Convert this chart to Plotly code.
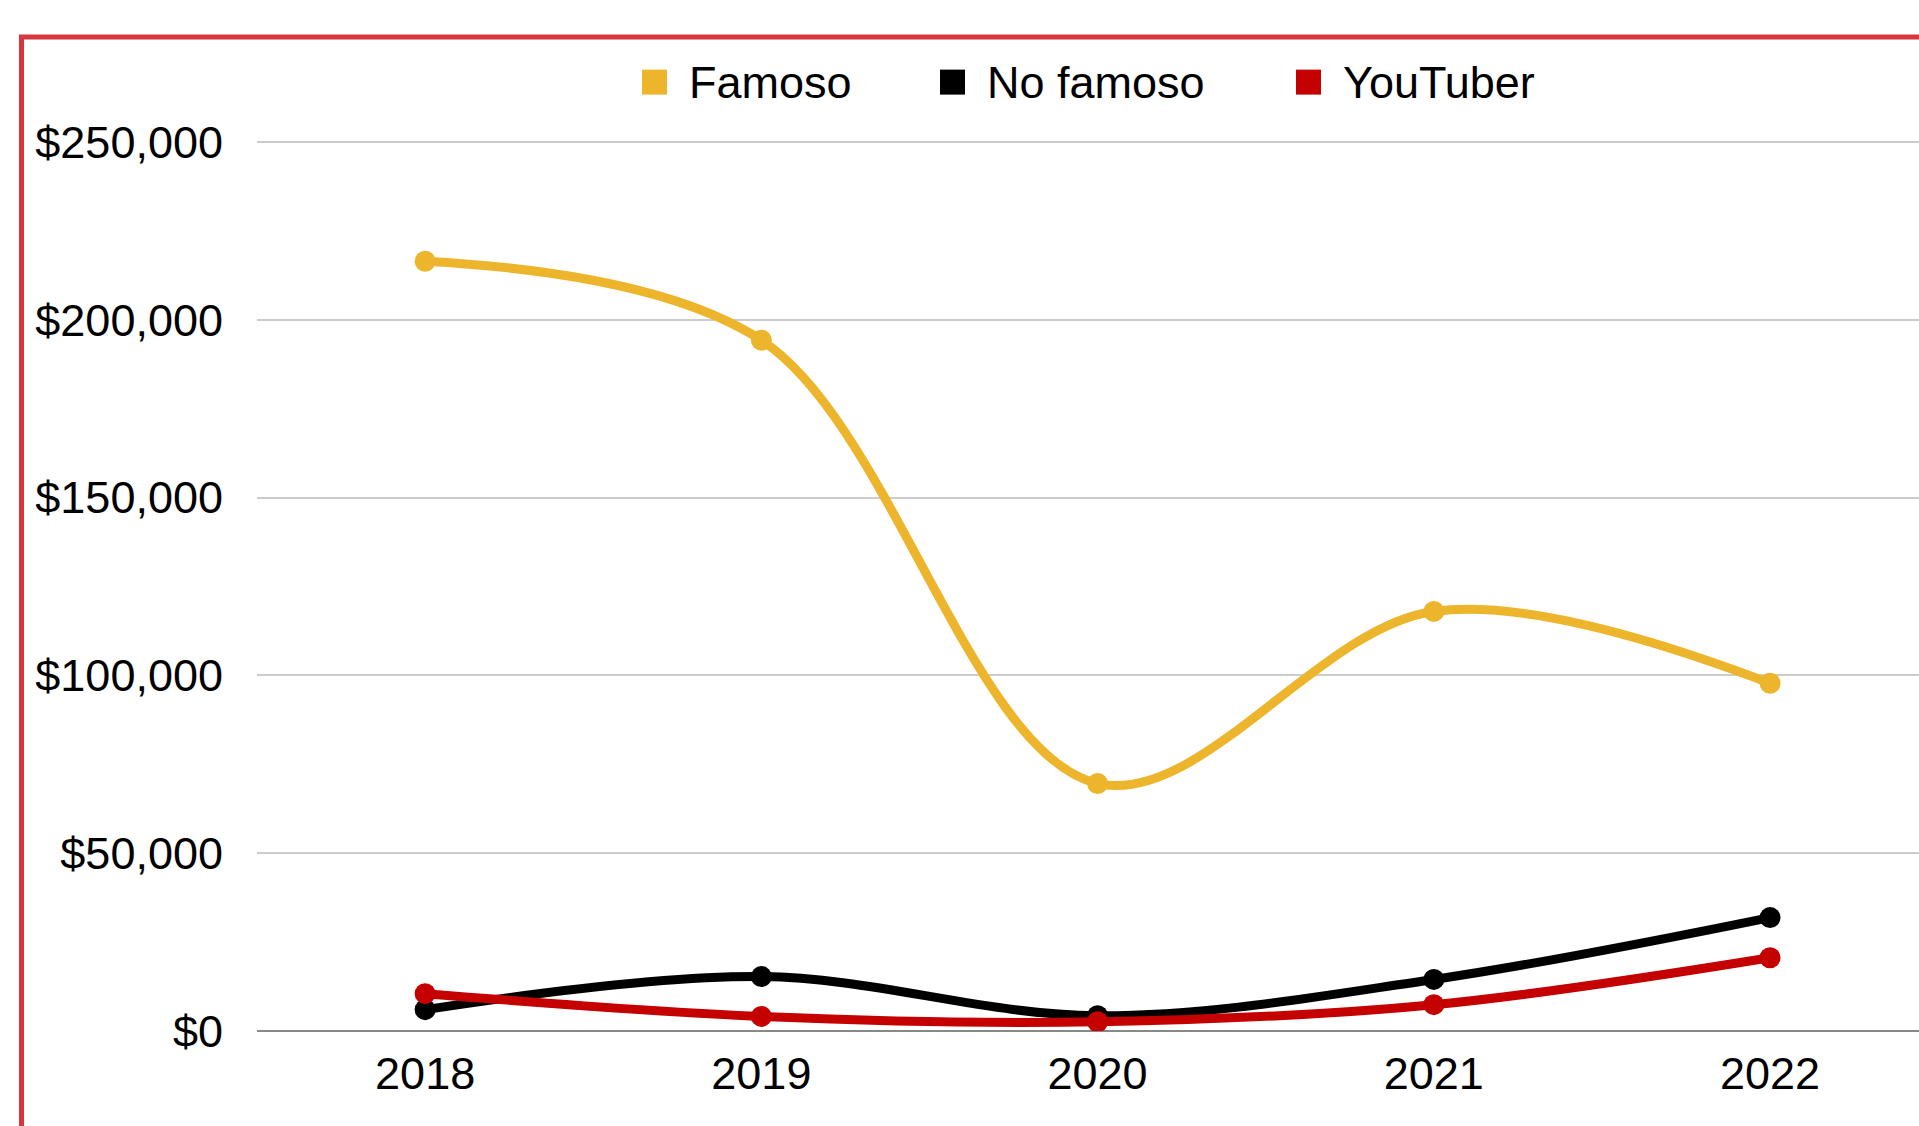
import plotly.graph_objects as go

years = ["2018", "2019", "2020", "2021", "2022"]
famoso = [216500, 194300, 69600, 118000, 97800]
no_famoso = [6000, 15300, 4300, 14500, 31900]
youtuber = [10500, 4100, 2600, 7400, 20600]

series_names = ["Famoso", "No famoso", "YouTuber"]
series_values = [famoso, no_famoso, youtuber]
series_colors = ["#ECB52B", "#000000", "#C50000"]

y_ticks = [0, 50000, 100000, 150000, 200000, 250000]
y_tick_labels = ["$" + format(v, ",d") for v in y_ticks]

W, H = 1919, 1126
Y_TOP = 252000
ZERO_PX, TOP_TICK_PX = 1031, 142
scale = (ZERO_PX - TOP_TICK_PX) / 250000.0
ML, MR, MB = 257, 0, H - ZERO_PX
MT = ZERO_PX - Y_TOP * scale
FONT = "Liberation Sans, Arial, sans-serif"

fig = go.Figure()
for name, vals, col in zip(series_names, series_values, series_colors):
    fig.add_trace(go.Scatter(
        x=years, y=vals, name=name, mode="lines+markers",
        line=dict(color=col, width=9, shape="spline", smoothing=1),
        marker=dict(color=col, size=21),
        showlegend=False, hoverinfo="x+y+name",
    ))

pw = W - ML - MR
ph = H - MT - MB
def px(x):
    return (x - ML) / pw
def py(y):
    return 1 - (y - MT) / ph

# red frame (top and left edges visible)
fig.add_shape(type="rect", xref="paper", yref="paper",
              x0=px(21.5), y0=py(1300), x1=px(2100), y1=py(37),
              line=dict(color="#D6363C", width=5), fillcolor="rgba(0,0,0,0)", layer="above")

# legend (square swatches + labels), laid out in a row at the top
legend_swatch_left = [642, 940, 1296]
legend_cy = 82
sw = 25
for name, col, lx in zip(series_names, series_colors, legend_swatch_left):
    fig.add_shape(type="rect", xref="paper", yref="paper",
                  x0=px(lx), x1=px(lx + sw), y0=py(legend_cy + sw / 2), y1=py(legend_cy - sw / 2),
                  line=dict(width=0), fillcolor=col, layer="above")
    fig.add_annotation(xref="paper", yref="paper", x=px(lx + sw + 20), y=py(legend_cy),
                       xanchor="left", yanchor="middle", text=name, showarrow=False,
                       font=dict(family=FONT, size=45, color="#000000"))

fig.update_layout(
    width=W, height=H,
    margin=dict(l=ML, r=MR, t=MT, b=MB, pad=0),
    paper_bgcolor="white", plot_bgcolor="white",
    font=dict(family=FONT, size=45, color="#000000"),
    showlegend=False,
    xaxis=dict(type="category", range=[-0.5, 4.443], showgrid=False, zeroline=False,
               showline=False, ticks="", ticklabelstandoff=12,
               tickfont=dict(size=45, family=FONT, color="#000000")),
    yaxis=dict(range=[0, Y_TOP], tickmode="array", tickvals=y_ticks, ticktext=y_tick_labels,
               showgrid=True, gridcolor="#CCCCCC", gridwidth=2,
               zeroline=True, zerolinecolor="#888888", zerolinewidth=2,
               showline=False, ticks="", ticklabelstandoff=33,
               tickfont=dict(size=45, family=FONT, color="#000000")),
)

fig.write_html("out.html", config={"displayModeBar": False},
               post_script="document.body.style.margin='0';")
